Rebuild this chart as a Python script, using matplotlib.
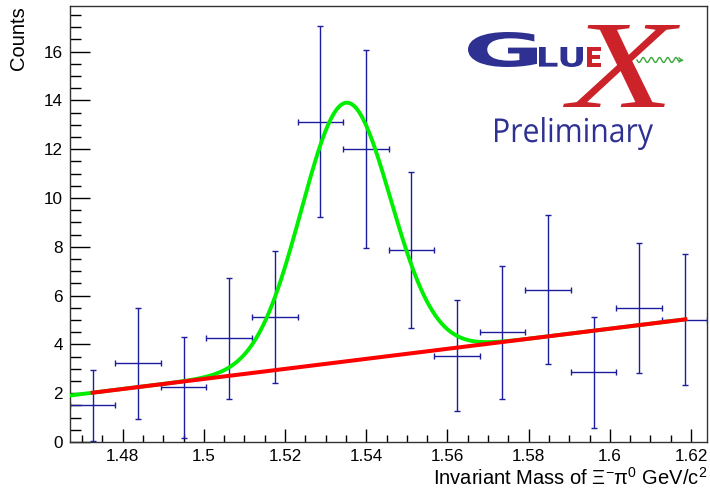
import numpy as np
import matplotlib
matplotlib.use('Agg')
import matplotlib.pyplot as plt
from matplotlib.textpath import TextPath
from matplotlib.font_manager import FontProperties
from matplotlib.patches import PathPatch
from matplotlib.path import Path

plt.rcParams['font.family'] = ['Liberation Sans', 'DejaVu Sans']
plt.rcParams['mathtext.fontset'] = 'custom'
plt.rcParams['mathtext.rm'] = 'Liberation Sans'
plt.rcParams['mathtext.it'] = 'Liberation Sans:italic'

# histogram of Xi- pi0 invariant mass (bin centres, GeV/c^2)
mass = [1.4726, 1.4838, 1.4950, 1.5062, 1.5175, 1.5287, 1.5399,
        1.5511, 1.5623, 1.5735, 1.5848, 1.5960, 1.6072, 1.6184]
counts = [1.50, 3.23, 2.25, 4.26, 5.11, 13.13, 12.01,
          7.87, 3.54, 4.50, 6.25, 2.86, 5.49, 5.01]
count_err = [1.46, 2.27, 2.07, 2.48, 2.70, 3.90, 4.05,
             3.20, 2.26, 2.72, 3.04, 2.28, 2.68, 2.69]
bin_half = 0.0056

# fit: linear background + gaussian peak
bg_x0 = 1.4726
bg_y0 = 2.02
bg_slope = 20.59
peak_amp = 10.6
peak_mean = 1.535
peak_sigma = 0.0110
fit_range = (1.467, 1.6186)
bg_range = (1.4726, 1.6186)


def background(x):
    return bg_y0 + bg_slope * (x - bg_x0)


def total(x):
    return background(x) + peak_amp * np.exp(-0.5 * ((x - peak_mean) / peak_sigma) ** 2)


fig = plt.figure(figsize=(7.1, 4.93), dpi=100)
ax = fig.add_axes([70 / 710, 51 / 493, 637 / 710, 436 / 493])

ax.errorbar(mass, counts, yerr=count_err, xerr=bin_half, fmt='none',
            ecolor='#1c1c9e', elinewidth=1.0, capsize=2.2, capthick=1.0, zorder=2)

xs = np.linspace(fit_range[0], fit_range[1], 400)
ax.plot(xs, total(xs), color='#00ee00', lw=2.8, zorder=3)
xb = np.linspace(bg_range[0], bg_range[1], 50)
ax.plot(xb, background(xb), color='#ff0000', lw=2.9, zorder=4)

ax.set_xlim(1.46702, 1.62394)
ax.set_ylim(0, 17.87)
ax.set_xticks([1.48, 1.50, 1.52, 1.54, 1.56, 1.58, 1.60, 1.62])
ax.set_xticklabels(['1.48', '1.5', '1.52', '1.54', '1.56', '1.58', '1.6', '1.62'])
ax.set_xticks(np.arange(1.47, 1.624, 0.005), minor=True)
ax.set_yticks([0, 2, 4, 6, 8, 10, 12, 14, 16])
ax.set_yticks(np.arange(0, 17.9, 0.5), minor=True)

ax.tick_params(axis='both', which='both', direction='in', top=False, right=False,
               colors='black', width=1.0, labelsize=12.3)
ax.tick_params(axis='x', which='major', length=9.4, pad=5)
ax.tick_params(axis='x', which='minor', length=5)
ax.tick_params(axis='y', which='major', length=14.4, pad=5)
ax.tick_params(axis='y', which='minor', length=8)
for s in ax.spines.values():
    s.set_color('#333333')
    s.set_linewidth(1.0)

ax.set_ylabel('Counts', loc='top', fontsize=14.5)
ax.yaxis.set_label_coords(-0.066, 1.0)
ax.set_xlabel(r'Invariant Mass of $\mathrm{\Xi}^{-}\mathrm{\pi}^{0}$ GeV/c$^{2}$',
              loc='right', fontsize=14.5)
ax.xaxis.set_label_coords(1.0, -0.058)

# GlueX logo in pixel coordinates (y downward)
lax = fig.add_axes([0, 0, 1, 1], facecolor='none')
lax.set_xlim(0, 710)
lax.set_ylim(493, 0)
lax.axis('off')


def fit_text(s, box, color, family='DejaVu Sans', weight='normal', style='normal'):
    x0, y0, x1, y1 = box
    tp = TextPath((0, 0), s, size=50,
                  prop=FontProperties(family=family, weight=weight, style=style))
    ext = tp.get_extents()
    v = tp.vertices.copy()
    v[:, 0] = x0 + (v[:, 0] - ext.x0) * (x1 - x0) / ext.width
    v[:, 1] = y1 - (v[:, 1] - ext.y0) * (y1 - y0) / ext.height
    lax.add_patch(PathPatch(Path(v, tp.codes), facecolor=color, edgecolor='none'))


blue = '#2e3192'
red = '#cc2229'
fit_text('G', (468, 32, 537, 67), blue, weight='bold')
fit_text('LU', (539, 47, 583, 67), blue, weight='bold')
fit_text('E', (587, 47, 601, 67), red, weight='bold')
fit_text('X', (563, 25, 680, 107), red, family='Liberation Serif', style='italic')
fit_text('Preliminary', (495, 117, 653, 150), blue, family='Open Sans')

wx = np.linspace(637, 678, 200)
lax.plot(wx, 60 + 2.5 * np.sin((wx - 637) / 41 * 5 * 2 * np.pi), color='#3aa83a', lw=1.0)
lax.plot([678, 682], [60, 60], color='#3aa83a', lw=1.0)
lax.plot([679, 682, 679], [58, 60, 62], color='#3aa83a', lw=1.0)

fig.savefig('out.png', dpi=100)
